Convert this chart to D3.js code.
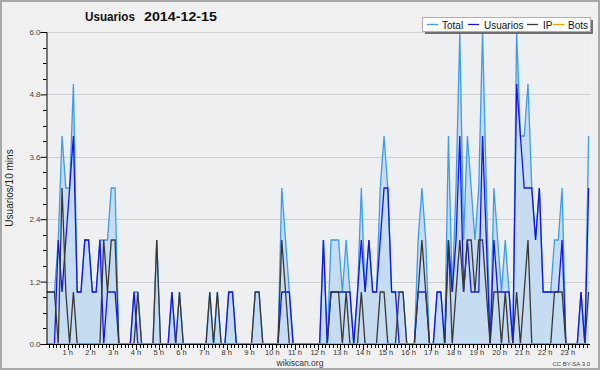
<!DOCTYPE html>
<html>
<head>
<meta charset="utf-8">
<script src="https://cdn.jsdelivr.net/npm/d3@7"></script>
<style>
  html, body { margin: 0; padding: 0; background: #f0f0f0; }
  svg { display: block; }
  text { font-family: "Liberation Sans", Arial, sans-serif; }
</style>
</head>
<body>
<svg id="chart" width="600" height="370"></svg>
<script>
// ---- data (10-minute intervals, 2014-12-15) ----
const titleText = "Usuarios";
const dateText = "2014-12-15";
const yLabel = "Usuarios/10 mins";
const seriesNames = ["Total", "Usuarios", "IP", "Bots"];
const seriesColors = ["#3d9bf0", "#1414f0", "#383838", "#f5a000"];
const yTicks = [0, 1.2, 2.4, 3.6, 4.8, 6.0];
const hourLabels = ["1 h","2 h","3 h","4 h","5 h","6 h","7 h","8 h","9 h","10 h","11 h","12 h",
                    "13 h","14 h","15 h","16 h","17 h","18 h","19 h","20 h","21 h","22 h","23 h"];

const total = [
  1,1,1,2,4,3,3,5,1,1, 2,2,1,1,2,2,2,3,3,0, 0,0,0,1,1,0,0,0,0,2,
  0,0,0,1,0,1,0,0,0,0, 0,0,0,1,0,1,0,0,1,1, 0,0,0,0,0,1,1,0,0,0,
  0,0,3,2,1,0,0,0,0,0, 0,0,0,2,0,2,2,2,1,2, 1,0,1,3,1,2,1,1,3,4,
  3,1,1,1,1,0,0,0,2,3, 2,0,0,1,1,0,4,1,3,6, 2,4,3,2,3,6,3,0,3,2,
  1,2,1,0,6,4,4,5,3,2, 3,1,1,1,2,2,3,0,0,0, 0,1,0,4
];
const usuarios = [
  0,0,0,2,1,2,3,4,1,1, 2,2,1,1,2,0,1,1,1,0, 0,0,0,1,0,0,0,0,0,0,
  0,0,0,1,0,0,0,0,0,0, 0,0,0,0,0,0,0,0,1,1, 0,0,0,0,0,0,0,0,0,0,
  0,0,1,1,1,0,0,0,0,0, 0,0,0,2,0,1,1,1,1,1, 1,0,1,2,1,2,1,1,2,3,
  3,1,1,0,0,0,0,0,1,1, 1,0,0,1,1,0,2,1,2,4, 1,2,1,1,1,4,2,0,2,1,
  1,1,1,0,5,4,3,3,3,2, 3,1,1,1,1,1,2,0,0,0, 0,1,0,3
];
const ip = [
  1,1,1,0,3,1,0,1,0,0, 0,0,0,0,0,2,1,2,2,0, 0,0,0,0,1,0,0,0,0,2,
  0,0,0,0,0,1,0,0,0,0, 0,0,0,1,0,1,0,0,0,0, 0,0,0,0,0,1,1,0,0,0,
  0,0,2,1,0,0,0,0,0,0, 0,0,0,0,0,1,1,1,0,1, 0,0,0,1,0,0,0,0,1,1,
  0,0,0,1,1,0,0,0,1,2, 1,0,0,0,0,0,2,0,1,2, 1,2,2,1,2,2,1,0,1,1,
  0,1,0,0,1,0,1,2,0,0, 0,0,0,0,1,1,1,0,0,0, 0,0,0,1
];
const bots = new Array(total.length).fill(0);

// ---- layout ----
const svg = d3.select("#chart");
const W = 600, H = 370;
const pLeft = 46, pRight = 590, pTop = 32, pBottom = 344;

svg.append("rect").attr("x", 1).attr("y", 1).attr("width", W - 2).attr("height", H - 2)
  .attr("fill", "#f0f0f0").attr("stroke", "#a8a8a8").attr("stroke-width", 2);

svg.append("rect").attr("x", pLeft).attr("y", pTop).attr("width", pRight - pLeft).attr("height", pBottom - pTop)
  .attr("fill", "#eeeff1");

const x = d3.scaleLinear().domain([-0.5, total.length - 0.5]).range([45, 590.5]);
const y = d3.scaleLinear().domain([0, 6]).range([pBottom, pTop]);

// grid
svg.append("g").selectAll("line").data(yTicks.filter(d => d > 0)).join("line")
  .attr("x1", pLeft).attr("x2", pRight)
  .attr("y1", d => Math.round(y(d)) + 0.5).attr("y2", d => Math.round(y(d)) + 0.5)
  .attr("stroke", "#cfcfcf").attr("stroke-width", 1);

// series
const idx = d3.range(total.length);
const area = d3.area().x(i => x(i)).y0(y(0)).y1(i => y(total[i]));
svg.append("path").datum(idx).attr("d", area).attr("fill", "#c6dcf0");

const lineOf = arr => d3.line().x(i => x(i)).y(i => y(arr[i]));
const seriesData = [total, usuarios, ip, bots];
seriesData.forEach((arr, k) => {
  svg.append("path").datum(idx).attr("d", lineOf(arr))
    .attr("fill", "none").attr("stroke", seriesColors[k]).attr("stroke-width", 1.3)
    .attr("stroke-linejoin", "miter");
});

// y axis
const yAxis = d3.axisLeft(y).tickValues(yTicks).tickSize(6).tickFormat(d3.format(".1f"));
const gy = svg.append("g").attr("transform", `translate(${pLeft + 0.5},0)`).call(yAxis);
gy.select(".domain").attr("stroke", "#000");
gy.selectAll(".tick line").attr("stroke", "#000");
gy.selectAll(".tick text").attr("font-size", 8).attr("fill", "#444")
  .attr("font-family", "Liberation Sans, Arial, sans-serif").attr("x", -6);
const yMinor = d3.range(0, 6.0001, 0.3).filter(v => Math.abs(v / 1.2 - Math.round(v / 1.2)) > 1e-6);
svg.append("g").selectAll("line").data(yMinor).join("line")
  .attr("x1", pLeft - 3).attr("x2", pLeft + 0.5)
  .attr("y1", d => Math.round(y(d)) + 0.5).attr("y2", d => Math.round(y(d)) + 0.5)
  .attr("stroke", "#000");

// x axis
svg.append("line").attr("x1", pLeft).attr("x2", pRight).attr("y1", pBottom + 0.5).attr("y2", pBottom + 0.5)
  .attr("stroke", "#000");
const hourScale = d3.scaleLinear().domain([0, 24]).range([x(-0.5), x(total.length - 0.5)]);
const minorTicks = d3.range(1, 144);
svg.append("g").selectAll("line").data(minorTicks).join("line")
  .attr("x1", d => Math.round(hourScale(d / 6)) + 0.5).attr("x2", d => Math.round(hourScale(d / 6)) + 0.5)
  .attr("y1", pBottom).attr("y2", d => pBottom + (d % 6 === 0 ? 6 : 4))
  .attr("stroke", "#000");
svg.append("g").selectAll("text").data(hourLabels).join("text")
  .attr("x", (d, i) => hourScale(i + 1))
  .attr("y", 355).attr("text-anchor", "middle")
  .attr("font-size", 7.5).attr("fill", "#333").text(d => d);

// title
svg.append("text").attr("x", 85).attr("y", 21).attr("font-size", 13).attr("font-weight", "bold")
  .attr("fill", "#111").attr("textLength", 50).attr("lengthAdjust", "spacingAndGlyphs").text(titleText);
svg.append("text").attr("x", 144).attr("y", 21).attr("font-size", 13).attr("font-weight", "bold")
  .attr("fill", "#111").attr("textLength", 73).attr("lengthAdjust", "spacingAndGlyphs").text(dateText);

// y label
svg.append("text").attr("transform", "translate(13,188) rotate(-90)").attr("text-anchor", "middle")
  .attr("font-family", "DejaVu Sans Mono, monospace").attr("font-size", 10).attr("fill", "#222")
  .text(yLabel);

// footer
svg.append("text").attr("x", 300).attr("y", 366).attr("text-anchor", "middle")
  .attr("font-size", 8.5).attr("fill", "#333").text("wikiscan.org");
svg.append("text").attr("x", 590).attr("y", 366).attr("text-anchor", "end")
  .attr("font-size", 6).attr("fill", "#444").text("CC BY-SA 3.0");

// legend
const lg = svg.append("g");
lg.append("rect").attr("x", 425).attr("y", 20).attr("width", 168).attr("height", 14).attr("fill", "#707070");
lg.append("rect").attr("x", 422.5).attr("y", 17.5).attr("width", 168).attr("height", 14)
  .attr("fill", "#ffffff").attr("stroke", "#b0b0b0");
const legendItems = [
  {name: seriesNames[0], lx: 427, tx: 442},
  {name: seriesNames[1], lx: 468, tx: 484},
  {name: seriesNames[2], lx: 527, tx: 543},
  {name: seriesNames[3], lx: 553, tx: 568}
];
legendItems.forEach((it, k) => {
  lg.append("line").attr("x1", it.lx).attr("x2", it.lx + 11).attr("y1", 24.5).attr("y2", 24.5)
    .attr("stroke", seriesColors[k]).attr("stroke-width", 1.3);
  lg.append("text").attr("x", it.tx).attr("y", 28.5).attr("font-size", 10).attr("fill", "#111").text(it.name);
});
</script>
</body>
</html>
